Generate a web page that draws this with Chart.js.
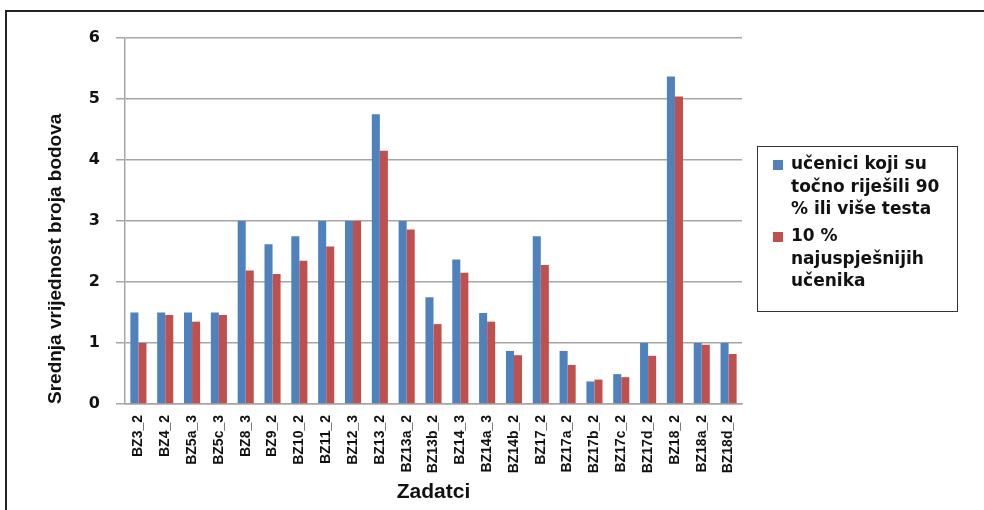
<!DOCTYPE html>
<html>
<head>
<meta charset="utf-8">
<script src="https://cdn.jsdelivr.net/npm/chart.js@4.4.1/dist/chart.umd.min.js"></script>
<style>
html, body { margin: 0; padding: 0; background: #fff; overflow: hidden; }
#wrap { position: absolute; left: 0; top: 0; width: 984px; height: 510px; }
</style>
</head>
<body>
<div id="wrap"><canvas id="zadatciChart" width="984" height="510"></canvas></div>
<script>
var labels = ["BZ3_2", "BZ4_2", "BZ5a_3", "BZ5c_3", "BZ8_3", "BZ9_2", "BZ10_2", "BZ11_2",
              "BZ12_3", "BZ13_2", "BZ13a_2", "BZ13b_2", "BZ14_3", "BZ14a_3", "BZ14b_2", "BZ17_2",
              "BZ17a_2", "BZ17b_2", "BZ17c_2", "BZ17d_2", "BZ18_2", "BZ18a_2", "BZ18d_2"];

var ucenici90 = [1.5, 1.5, 1.5, 1.5, 3.0, 2.62, 2.75, 3.0,
                 3.0, 4.75, 3.0, 1.75, 2.37, 1.49, 0.87, 2.75,
                 0.87, 0.37, 0.49, 1.0, 5.37, 1.0, 1.0];

var najuspjesniji10 = [1.0, 1.46, 1.35, 1.46, 2.19, 2.13, 2.35, 2.58,
                       3.0, 4.15, 2.86, 1.31, 2.15, 1.35, 0.80, 2.28,
                       0.64, 0.40, 0.44, 0.79, 5.04, 0.97, 0.82];

var legendLines = [
  ["učenici koji su", "točno riješili 90", "% ili više testa"],
  ["10 %", "najuspješnijih", "učenika"]
];

var yTicks = [0, 1, 2, 3, 4, 5, 6];

// okvir slike (gore i lijevo)
var frame = {
  id: 'frame',
  beforeDraw: function(chart) {
    var ctx = chart.ctx;
    ctx.save();
    ctx.strokeStyle = '#222';
    ctx.lineWidth = 2;
    ctx.beginPath();
    ctx.moveTo(6, 520);
    ctx.lineTo(6, 11);
    ctx.lineTo(990, 11);
    ctx.stroke();
    ctx.restore();
  }
};

// legenda u okviru desno od grafa
var boxLegend = {
  id: 'boxLegend',
  afterDraw: function(chart) {
    var ctx = chart.ctx;
    ctx.save();
    ctx.strokeStyle = '#333';
    ctx.lineWidth = 1;
    ctx.strokeRect(757.5, 146.5, 200, 165);
    ctx.font = 'bold 17px "DejaVu Sans"';
    ctx.textBaseline = 'middle';
    var y = 165;
    chart.data.datasets.forEach(function(ds, i) {
      ctx.fillStyle = ds.backgroundColor;
      ctx.fillRect(773, y - 5, 10, 10);
      ctx.fillStyle = '#111';
      legendLines[i].forEach(function(line, j) {
        ctx.fillText(line, 791, y + j * 22.5);
      });
      y += legendLines[i].length * 22.5 + 4.5;
    });
    ctx.restore();
  }
};

var ctx = document.getElementById("zadatciChart").getContext('2d');
var myChart = new Chart(ctx, {
  type: 'bar',
  data: {
    labels: labels,
    datasets: [
      {
        label: legendLines[0].join(" "),
        data: ucenici90,
        backgroundColor: "#4F81BD",
        categoryPercentage: 0.6,
        barPercentage: 1.0
      },
      {
        label: legendLines[1].join(" "),
        data: najuspjesniji10,
        backgroundColor: "#C0504D",
        categoryPercentage: 0.6,
        barPercentage: 1.0
      }
    ]
  },
  options: {
    responsive: false,
    animation: false,
    layout: { padding: { top: 38, right: 242, bottom: 0, left: 0 } },
    plugins: {
      legend: { display: false },
      tooltip: { enabled: false }
    },
    scales: {
      x: {
        afterFit: function(s) { s.height = 106; },
        grid: { display: false, drawTicks: false },
        border: { color: '#a6a6a6', width: 1.5 },
        ticks: {
          autoSkip: false, minRotation: 90, maxRotation: 90, padding: 11,
          color: '#111',
          font: { family: 'Liberation Sans', weight: 'bold', size: 14 }
        },
        title: {
          display: true, text: 'Zadatci', color: '#111',
          font: { family: 'Liberation Sans', weight: 'bold', size: 21 },
          padding: { top: 0, bottom: 5 }
        }
      },
      y: {
        min: 0, max: 6,
        afterFit: function(s) { s.width = 125; },
        afterBuildTicks: function(s) { s.ticks = yTicks.map(function(v) { return { value: v }; }); },
        grid: { color: '#a6a6a6', lineWidth: 1.5, tickLength: 9 },
        border: { color: '#a6a6a6', width: 1.5 },
        ticks: {
          padding: 16, color: '#111',
          font: { family: 'DejaVu Sans', weight: 'bold', size: 16 }
        },
        title: {
          display: true, text: 'Srednja vrijednost broja bodova', align: 'start', color: '#111',
          font: { family: 'Liberation Sans', weight: 'bold', size: 19 },
          padding: { top: 44, bottom: 0 }
        }
      }
    }
  },
  plugins: [frame, boxLegend]
});
</script>
</body>
</html>
